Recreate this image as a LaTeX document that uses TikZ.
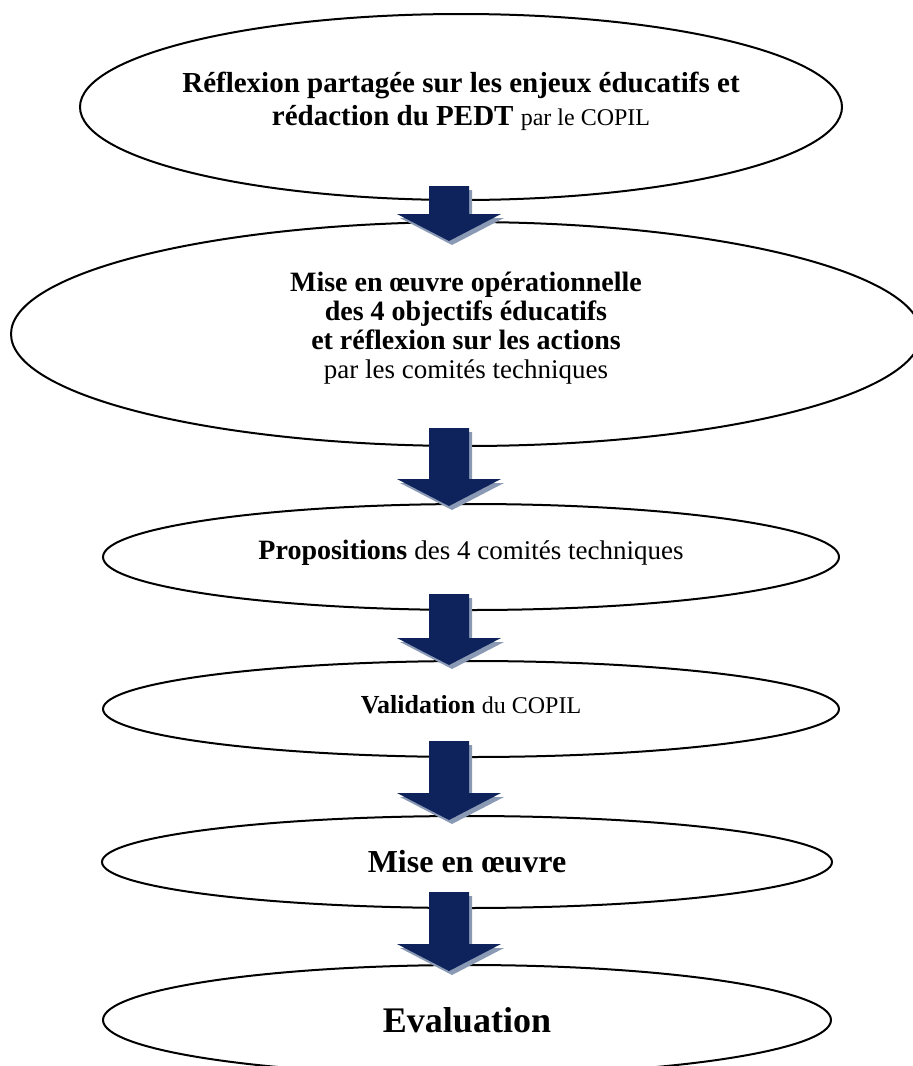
\documentclass[tikz,border=0pt]{standalone}
\usepackage{fontspec}
\setmainfont{Liberation Serif}
\usetikzlibrary{arrows.meta, positioning, shapes.geometric, calc}

\definecolor{navy}{RGB}{14,35,92}
\definecolor{arrowshade}{RGB}{138,154,181}

\newcommand{\reg}[1]{{\fontsize{12pt}{14pt}\selectfont\mdseries #1}}
\newcommand{\regl}[1]{{\fontsize{13.5pt}{15pt}\selectfont\mdseries #1}}
\newcommand{\arrowpath}[2]{($(#1)+(-20,0)$) -- ($(#2)+(-20,-27)$) -- ($(#2)+(-52,-27)$) -- (#2)
  -- ($(#2)+(52,-27)$) -- ($(#2)+(20,-27)$) -- ($(#1)+(20,0)$) -- cycle}
\newcommand{\flowarrow}[2]{%
  \fill[arrowshade, transform canvas={shift={(1.5pt,-2pt)}}] \arrowpath{#1}{#2};
  \fill[navy] \arrowpath{#1}{#2};}

\tikzset{
  oval/.style={draw, ellipse, line width=1pt, inner sep=0pt},
  steptext/.style={align=center, inner sep=0pt, font=\fontsize{14.5pt}{16.5pt}\selectfont\bfseries},
  bigtext/.style={inner sep=0pt, font=\fontsize{16pt}{18pt}\selectfont\bfseries}
}

\begin{document}
\begin{tikzpicture}[x=0.5pt, y=-0.5pt]
  \useasboundingbox (0,0) rectangle (912,1066);

  % Steps
  \node[oval, minimum width=381pt, minimum height=93pt] (e1) at (461,107) {};
  \node[steptext] (t1) at ($(e1.center)+(0,-6)$)
    {Réflexion partagée sur les enjeux éducatifs et\\rédaction du PEDT \reg{par le COPIL}};

  \node[oval, minimum width=455pt, minimum height=112pt] (e2) at (466,334) {};
  \node[steptext, font=\fontsize{14pt}{14.5pt}\selectfont\bfseries] (t2) at ($(e2.center)+(0,-6)$)
    {Mise en œuvre opérationnelle\\des 4 objectifs éducatifs\\et réflexion sur les actions\\\regl{par les comités techniques}};

  \node[oval, minimum width=368pt, minimum height=53pt] (e3) at (471,557) {};
  \node[steptext, font=\fontsize{14pt}{16pt}\selectfont\bfseries] (t3) at ($(e3.center)+(0,-4)$) {Propositions \regl{des 4 comités techniques}};

  \node[oval, minimum width=368pt, minimum height=48pt] (e4) at (471,709) {};
  \node[steptext, font=\fontsize{13pt}{16pt}\selectfont\bfseries] (t4) at ($(e4.center)+(0,-4)$) {Validation \reg{du COPIL}};

  \node[oval, minimum width=365pt, minimum height=46pt] (e5) at (467,862) {};
  \node[bigtext] (t5) at (e5.center) {Mise en œuvre};

  \node[oval, minimum width=364pt, minimum height=55pt] (e6) at (467,1020) {};
  \node[bigtext, font=\fontsize{18pt}{20pt}\selectfont\bfseries] (t6) at (e6.center) {Evaluation};

  % Arrows between steps
  \coordinate (axis) at (449,0);
  \foreach \from/\to/\up/\down [count=\i] in {e1/e2/15/20, e2/e3/19/3, e3/e4/17/5, e4/e5/17/5, e5/e6/17/7} {
    \coordinate (a\i top) at ($(\from.south -| axis)+(0,-\up)$);
    \coordinate (a\i tip) at ($(\to.north -| axis)+(0,\down)$);
    \flowarrow{a\i top}{a\i tip}
  }
\end{tikzpicture}
\end{document}
